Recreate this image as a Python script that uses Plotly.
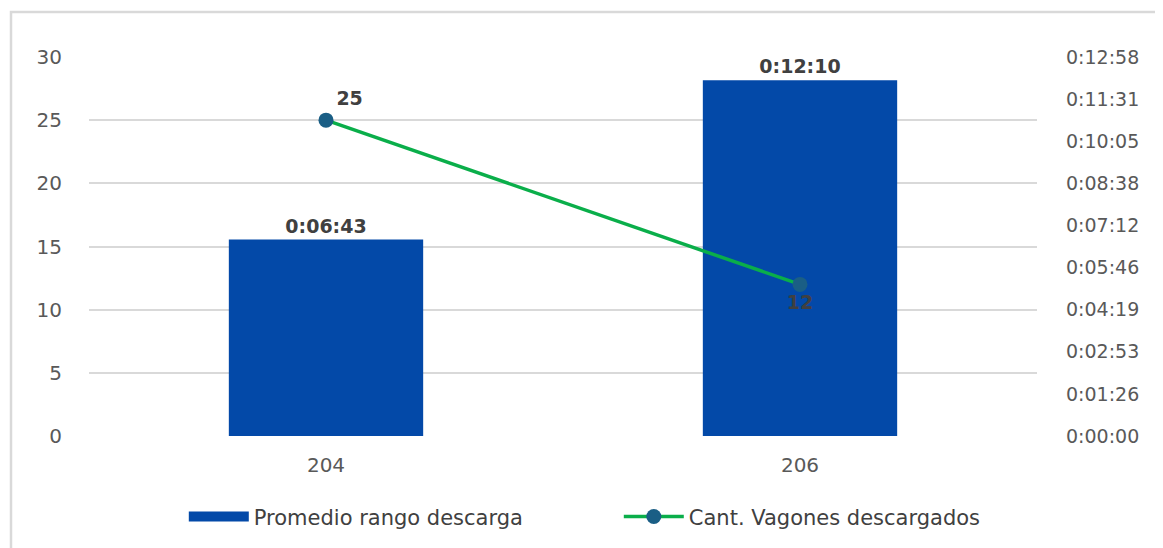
import plotly.graph_objects as go

categories = ["204", "206"]
bar_seconds = [403, 730]
bar_labels = ["0:06:43", "0:12:10"]
line_values = [25, 12]
left_ticks = [0, 5, 10, 15, 20, 25, 30]
right_tick_labels = ["0:00:00", "0:01:26", "0:02:53", "0:04:19", "0:05:46",
                     "0:07:12", "0:08:38", "0:10:05", "0:11:31", "0:12:58"]
right_max_seconds = 777.6

right_tick_vals = [i * right_max_seconds / (len(right_tick_labels) - 1)
                   for i in range(len(right_tick_labels))]

FONT = "DejaVu Sans"
GRAY = "#595959"
DARK = "#404040"
BLUE = "#0349A8"

fig = go.Figure()
fig.add_trace(go.Bar(
    x=categories, y=bar_seconds, name="Promedio rango descarga",
    marker=dict(color=BLUE, line=dict(width=0)),
    text=bar_labels, textposition="outside", cliponaxis=False,
    textfont=dict(family=FONT, size=19, color=DARK, weight="bold"),
    showlegend=False, yaxis="y",
))
# legend proxy for the bar series (wide rectangle key)
fig.add_trace(go.Scatter(
    x=[None], y=[None], mode="lines", name="Promedio rango descarga",
    line=dict(color=BLUE, width=14), yaxis="y",
))
fig.add_trace(go.Scatter(
    x=categories, y=line_values, name="Cant. Vagones descargados",
    mode="lines+markers+text",
    line=dict(color="#0AAE4A", width=3.5),
    marker=dict(color="#1A5E85", size=15),
    text=[str(v) for v in line_values],
    textposition=["top right", "bottom center"],
    textfont=dict(family=FONT, size=19, color=DARK, weight="bold"),
    cliponaxis=False,
    yaxis="y2",
))

fig.update_layout(
    width=1155, height=540,
    margin=dict(l=81, r=126, t=49, b=111),
    paper_bgcolor="white", plot_bgcolor="white",
    bargap=0.59,
    font=dict(family=FONT, color=GRAY, size=19),
    xaxis=dict(showgrid=False, showline=False, ticks="",
               tickfont=dict(size=20, color=GRAY), ticklabelstandoff=15),
    yaxis=dict(side="right", range=[0, right_max_seconds],
               tickvals=right_tick_vals, ticktext=right_tick_labels,
               showgrid=False, zeroline=False, showline=False,
               tickfont=dict(size=19, color=GRAY), ticklabelstandoff=28),
    yaxis2=dict(side="left", overlaying="y", range=[0, 30],
                tickvals=left_ticks, showgrid=True, gridcolor="#D9D9D9",
                gridwidth=1.5, zeroline=False, showline=False,
                tickfont=dict(size=20, color=GRAY), ticklabelstandoff=26),
    showlegend=True,
    legend=dict(orientation="h", x=0.1, xanchor="left", y=-0.21,
                yanchor="middle", font=dict(size=21, color=DARK),
                itemwidth=60, traceorder="normal",
                entrywidth=360, entrywidthmode="pixels"),
    shapes=[dict(type="rect", xref="paper", yref="paper",
                 x0=-78 / 948, x1=1.25, y0=-0.4, y1=1 + 45 / 380,
                 line=dict(color="#D9D9D9", width=2.5), layer="below")],
)

fig.write_html("out.html")
